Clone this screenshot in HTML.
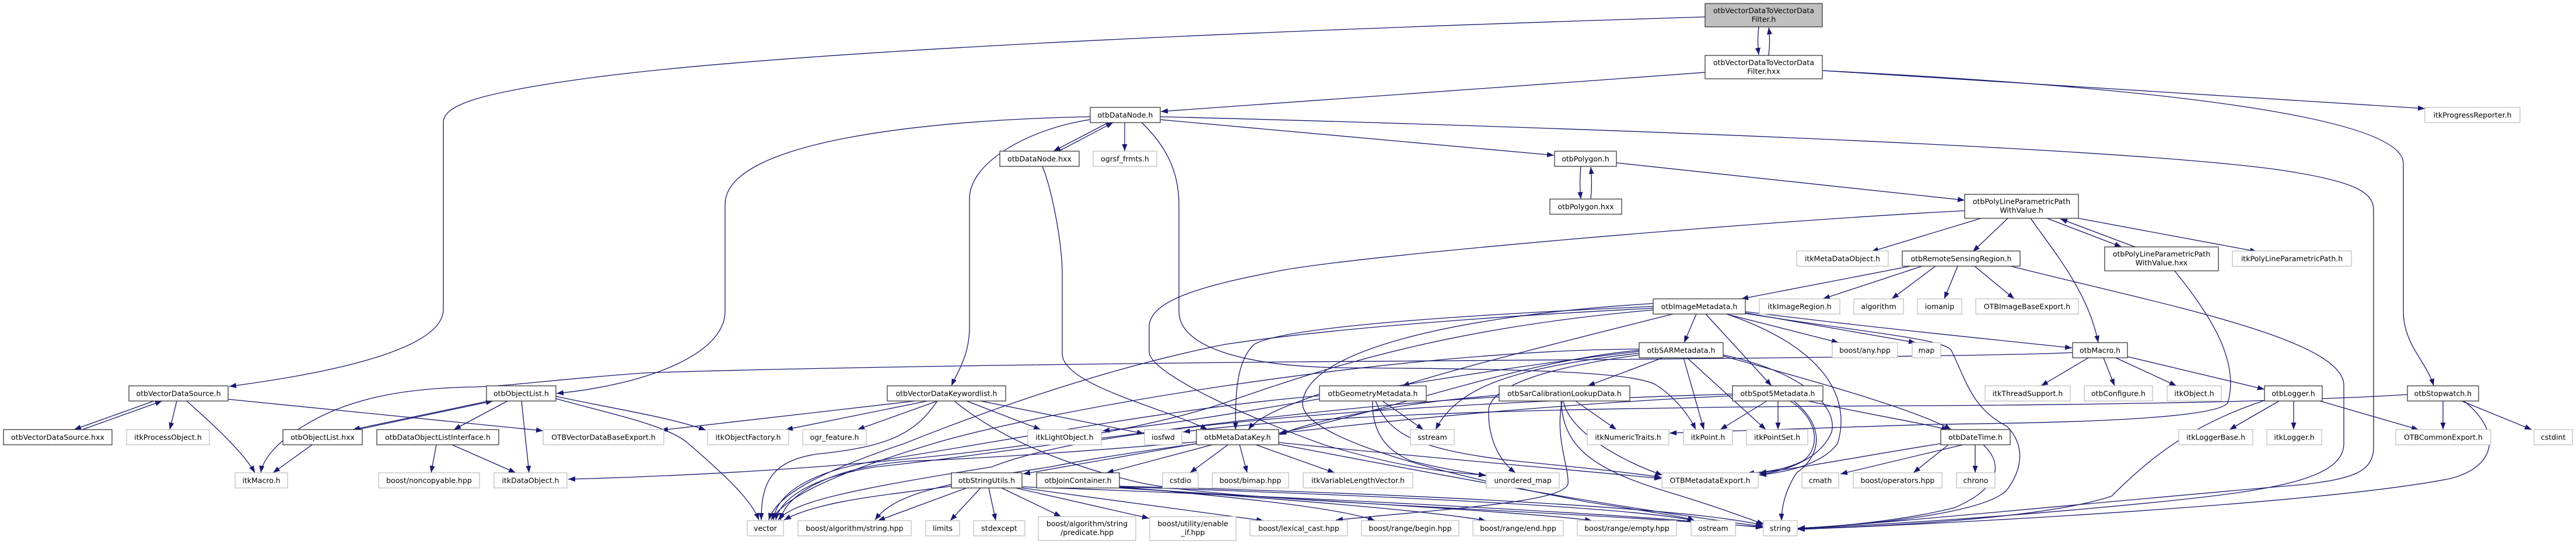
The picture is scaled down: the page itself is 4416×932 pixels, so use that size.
<!DOCTYPE html>
<html>
<head>
<meta charset="utf-8">
<style>
html,body{margin:0;padding:0;background:#fff;}
svg{display:block;}
text{font-family:"DejaVu Sans","Liberation Sans",sans-serif;font-size:12.5px;fill:#000;text-anchor:middle;}
.e{fill:none;stroke:#191970;stroke-width:1.3;marker-end:url(#ah);}
.b{fill:#fff;stroke:#3a3a3a;stroke-width:1.3;}
.g{fill:#fff;stroke:#bfbfbf;stroke-width:1.3;}
.r{fill:#bfbfbf;stroke:#3a3a3a;stroke-width:1.3;}
</style>
</head>
<body>
<svg width="4416" height="932" viewBox="0 0 4416 932" xmlns="http://www.w3.org/2000/svg">
<defs>
<marker id="ah" markerUnits="userSpaceOnUse" markerWidth="13" markerHeight="10" refX="12" refY="4.5" orient="auto">
<path d="M0,0 L12,4.5 L0,9 z" fill="#191970"/>
</marker>
</defs>

<!-- EDGES -->
<path class="e" d="M3015,46 C3013,62 3013,78 3015,94"/>
<path class="e" d="M3032,95 C3034,79 3034,62 3032,47"/>
<path class="e" d="M2923,29 C2400,45 1400,80 1000,135 C820,160 760,180 760,210 L760,530 C760,600 560,640 393,662"/>
<path class="e" d="M2923,124 C2600,148 2250,172 1990,191"/>
<path class="e" d="M3125,121 L4157,186"/>
<path class="e" d="M3125,121 C3700,150 4120,200 4120,280 L4120,533 C4120,590 4160,620 4172,661"/>
<path class="e" d="M1900,210 L1806,259"/>
<path class="e" d="M1815,259 L1908,210"/>
<path class="e" d="M1928,210 L1928,259"/>
<path class="e" d="M1989,205 L2664,266"/>
<path class="e" d="M1869,200 C1600,205 1243,240 1243,350 L1243,533 C1243,610 1100,660 954,674"/>
<path class="e" d="M1875,204 C1760,220 1662,280 1662,340 L1662,560 C1662,610 1640,640 1631,661"/>
<path class="e" d="M1787,285 C1805,330 1821,420 1821,470 L1821,606 C1821,660 2000,700 2070,736"/>
<path class="e" d="M1957,210 C2010,260 2021,310 2021,350 L2021,533 C2021,600 2150,628 2300,630 C2600,632 2800,636 2840,660 C2870,680 2895,710 2907,736"/>
<path class="e" d="M1989,200 C2600,215 3600,250 3900,290 C4040,310 4069,330 4069,360 L4069,766 C4069,810 4030,820 3950,830 C3600,860 3200,900 3082,905"/>
<path class="e" d="M2710,285 C2708,305 2708,322 2710,341"/>
<path class="e" d="M2727,341 C2729,322 2729,305 2727,286"/>
<path class="e" d="M2771,279 L3368,343"/>
<path class="e" d="M3509,374 L3637,423"/>
<path class="e" d="M3660,423 L3532,375"/>
<path class="e" d="M3563,374 L3869,431"/>
<path class="e" d="M3442,374 L3382,431"/>
<path class="e" d="M3396,374 L3208,431"/>
<path class="e" d="M3481,374 C3520,430 3580,500 3597,587"/>
<path class="e" d="M3368,361 C3000,380 2300,440 2183,466 C2060,490 1970,515 1970,560 L1970,603 C1970,640 2150,720 2273,763 C2400,800 2480,810 2547,814"/>
<path class="e" d="M3727,463 C3790,540 3840,620 3819,690 C3800,720 3500,725 3312,727 L2862,742"/>
<path class="e" d="M3275,456 L2985,512"/>
<path class="e" d="M3295,456 L3125,512"/>
<path class="e" d="M3318,456 L3243,512"/>
<path class="e" d="M3356,456 L3333,512"/>
<path class="e" d="M3385,456 L3453,512"/>
<path class="e" d="M3447,456 C3700,520 4018,580 4018,660 L4018,760 C4018,820 3900,840 3700,860 C3400,890 3150,903 3082,905"/>
<path class="e" d="M2908,538 L2887,587"/>
<path class="e" d="M2924,538 L3037,661"/>
<path class="e" d="M2868,538 C2700,580 2500,630 2404,661"/>
<path class="e" d="M2959,538 L3152,587"/>
<path class="e" d="M2992,536 L3284,587"/>
<path class="e" d="M2992,534 C3200,560 3400,580 3552,596"/>
<path class="e" d="M2960,538 C3140,600 3172,690 3150,760 C3120,800 3050,810 3016,814"/>
<path class="e" d="M2834,525 C2500,540 2200,560 2150,590 C2118,620 2118,680 2118,736"/>
<path class="e" d="M2834,528 C2600,540 2300,560 2100,590 C1900,630 1700,700 1550,760 C1400,810 1330,850 1318,891"/>
<path class="e" d="M2834,531 C2500,560 2300,620 2100,690 C1800,790 1200,815 974,821"/>
<path class="e" d="M2992,537 C3200,570 3330,580 3345,600 C3370,650 3380,700 3440,730 C3470,760 3470,800 3440,840 C3400,880 3200,900 3082,905"/>
<path class="e" d="M2834,520 C2500,540 2240,600 2233,690 C2230,740 2400,800 2722,860 C2850,880 2890,886 2905,892"/>
<path class="e" d="M2850,613 L2722,661"/>
<path class="e" d="M2886,613 L2921,736"/>
<path class="e" d="M2892,613 L3027,736"/>
<path class="e" d="M2810,605 C2600,630 2500,660 2461,736"/>
<path class="e" d="M2810,608 C2650,630 2560,660 2552,700 C2550,750 2570,790 2598,810"/>
<path class="e" d="M2954,608 C3100,640 3150,700 3140,740 C3120,790 3050,810 3016,812"/>
<path class="e" d="M2954,610 C3100,650 3280,700 3345,736"/>
<path class="e" d="M2810,600 C2600,620 2400,700 2193,742"/>
<path class="e" d="M2810,598 C2400,600 1800,700 1600,760 C1400,820 1340,860 1322,891"/>
<path class="e" d="M2810,602 C2400,650 2100,720 1890,738"/>
<path class="e" d="M2370,687 L2440,736"/>
<path class="e" d="M2353,687 C2352,720 2360,766 2420,790 C2480,805 2520,810 2547,815"/>
<path class="e" d="M2358,687 C2380,740 2420,770 2600,790 C2700,800 2800,810 2848,818"/>
<path class="e" d="M2262,675 C2220,690 2160,710 2140,736"/>
<path class="e" d="M2262,678 C2000,700 1700,760 1500,790 C1380,810 1330,850 1326,891"/>
<path class="e" d="M2701,687 L2771,736"/>
<path class="e" d="M2680,687 C2690,740 2780,790 2850,814"/>
<path class="e" d="M2676,687 C2680,760 2720,800 2850,840 C2950,870 3000,890 3024,898"/>
<path class="e" d="M2678,687 C2665,750 2690,800 2688,829 C2680,860 2500,870 2290,891"/>
<path class="e" d="M2570,680 C2200,700 1700,780 1500,800 C1380,820 1335,860 1330,891"/>
<path class="e" d="M2570,677 C2400,690 2250,720 2193,745"/>
<path class="e" d="M3029,687 L2949,736"/>
<path class="e" d="M3048,687 L3048,736"/>
<path class="e" d="M3069,687 C3120,720 3120,770 3090,790 C3060,805 3030,808 2995,811"/>
<path class="e" d="M3075,687 C3140,740 3110,790 3080,810 C3060,840 3054,870 3054,892"/>
<path class="e" d="M3100,687 C3200,710 3300,725 3340,737"/>
<path class="e" d="M2970,675 C2500,690 1900,720 1700,800 C1450,840 1360,860 1334,891"/>
<path class="e" d="M2970,678 C2500,700 2000,760 1800,800 C1600,830 1530,850 1500,891"/>
<path class="e" d="M4127,676 C3900,690 3500,694 3300,695 C2800,697 2300,705 2028,740"/>
<path class="e" d="M1569,687 L1133,737"/>
<path class="e" d="M1590,687 L1347,736"/>
<path class="e" d="M1607,687 L1470,736"/>
<path class="e" d="M1607,687 C1570,740 1530,765 1400,778 C1320,790 1305,830 1305,891"/>
<path class="e" d="M1657,687 L1784,736"/>
<path class="e" d="M1681,687 L1961,743"/>
<path class="e" d="M1636,687 C1700,740 1800,790 1950,826 C2100,860 2600,870 3022,903"/>
<path class="e" d="M838,687 L605,736"/>
<path class="e" d="M613,736 L845,687"/>
<path class="e" d="M870,687 L778,736"/>
<path class="e" d="M894,687 L907,810"/>
<path class="e" d="M953,679 C1050,700 1150,715 1210,737"/>
<path class="e" d="M953,683 C1050,710 1146,729 1180,760 C1250,820 1290,860 1301,891"/>
<path class="e" d="M535,762 L468,810"/>
<path class="e" d="M748,762 L739,810"/>
<path class="e" d="M775,762 L884,810"/>
<path class="e" d="M264,687 L127,736"/>
<path class="e" d="M141,736 L278,687"/>
<path class="e" d="M303,687 L291,736"/>
<path class="e" d="M320,687 C380,740 420,780 437,810"/>
<path class="e" d="M391,684 L931,738"/>
<path class="e" d="M3553,604 C3400,612 2500,618 2208,620 C1700,625 1300,632 1104,639 C950,650 870,662 810,663 C700,665 600,680 520,730 C470,760 450,790 447,810"/>
<path class="e" d="M2105,762 L2040,810"/>
<path class="e" d="M2125,762 L2138,810"/>
<path class="e" d="M2078,762 L1897,810"/>
<path class="e" d="M2051,760 L1754,812"/>
<path class="e" d="M2153,762 L2288,810"/>
<path class="e" d="M2051,757 C1900,770 1700,785 1560,790 C1420,800 1345,850 1338,891"/>
<path class="e" d="M2192,758 C2400,780 2700,805 2848,820"/>
<path class="e" d="M2192,761 C2400,800 2700,860 3022,902"/>
<path class="e" d="M1631,833 C1500,850 1400,860 1344,891"/>
<path class="e" d="M1657,836 L1505,892"/>
<path class="e" d="M1681,836 L1629,892"/>
<path class="e" d="M1695,836 L1707,892"/>
<path class="e" d="M1717,836 L1819,885"/>
<path class="e" d="M1741,836 L1970,888"/>
<path class="e" d="M1752,836 L2166,892"/>
<path class="e" d="M1752,834 C2200,850 2800,880 3022,904"/>
<path class="e" d="M1919,834 C2100,850 2300,870 2357,892"/>
<path class="e" d="M1919,835 C2200,855 2450,875 2547,892"/>
<path class="e" d="M1919,836 C2300,860 2650,880 2729,892"/>
<path class="e" d="M1919,834 C2400,850 2800,870 2905,892"/>
<path class="e" d="M1919,833 C2400,845 2900,870 3022,900"/>
<path class="e" d="M3386,762 L3386,810"/>
<path class="e" d="M3365,762 L3155,812"/>
<path class="e" d="M3340,762 L3280,810"/>
<path class="e" d="M3400,762 C3440,800 3420,840 3350,870 C3250,895 3120,904 3082,905"/>
<path class="e" d="M3327,760 C3200,780 3100,800 3016,810"/>
<path class="e" d="M3580,613 L3499,661"/>
<path class="e" d="M3606,613 L3625,661"/>
<path class="e" d="M3627,613 L3731,661"/>
<path class="e" d="M3647,611 L3882,667"/>
<path class="e" d="M3907,687 L3822,736"/>
<path class="e" d="M3932,687 L3932,736"/>
<path class="e" d="M3977,687 L4146,736"/>
<path class="e" d="M3882,686 C3750,730 3680,790 3620,850 C3500,890 3200,903 3082,906"/>
<path class="e" d="M4188,687 L4188,736"/>
<path class="e" d="M4220,687 L4340,736"/>
<path class="e" d="M4224,687 C4290,740 4280,800 4200,820 C4000,860 3400,895 3082,907"/>

<!-- NODES -->
<rect class="r" x="2923" y="6" width="201" height="40"/>
<text x="3023.5" y="22.5">otbVectorDataToVectorData</text><text x="3023.5" y="37.5">Filter.h</text>
<rect class="b" x="2923" y="95" width="201" height="40"/>
<text x="3023.5" y="111.5">otbVectorDataToVectorData</text><text x="3023.5" y="126.5">Filter.hxx</text>

<rect class="b" x="1869" y="184" width="120" height="26"/><text x="1929" y="201.5">otbDataNode.h</text>
<rect class="g" x="4157" y="184" width="163" height="26"/><text x="4238.5" y="201.5">itkProgressReporter.h</text>

<rect class="b" x="1714" y="259" width="136" height="26"/><text x="1782" y="276.5">otbDataNode.hxx</text>
<rect class="g" x="1874" y="259" width="109" height="26"/><text x="1928.5" y="276.5">ogrsf_frmts.h</text>
<rect class="b" x="2665" y="259" width="106" height="26"/><text x="2718" y="276.5">otbPolygon.h</text>

<rect class="b" x="2657" y="341" width="123" height="26"/><text x="2718.5" y="358.5">otbPolygon.hxx</text>
<rect class="b" x="3368" y="333" width="195" height="41"/>
<text x="3465.5" y="349.5">otbPolyLineParametricPath</text><text x="3465.5" y="364.5">WithValue.h</text>

<rect class="g" x="3080" y="430" width="157" height="26"/><text x="3158.5" y="447.5">itkMetaDataObject.h</text>
<rect class="b" x="3261" y="430" width="202" height="26"/><text x="3362" y="447.5">otbRemoteSensingRegion.h</text>
<rect class="b" x="3608" y="423" width="195" height="41"/>
<text x="3705.5" y="439.5">otbPolyLineParametricPath</text><text x="3705.5" y="454.5">WithValue.hxx</text>
<rect class="g" x="3827" y="430" width="204" height="26"/><text x="3929" y="447.5">itkPolyLineParametricPath.h</text>

<rect class="b" x="2834" y="512" width="158" height="26"/><text x="2913" y="529.5">otbImageMetadata.h</text>
<rect class="g" x="3016" y="512" width="138" height="26"/><text x="3085" y="529.5">itkImageRegion.h</text>
<rect class="g" x="3178" y="512" width="85" height="26"/><text x="3220.5" y="529.5">algorithm</text>
<rect class="g" x="3287" y="512" width="76" height="26"/><text x="3325" y="529.5">iomanip</text>
<rect class="g" x="3387" y="512" width="176" height="26"/><text x="3475" y="529.5">OTBImageBaseExport.h</text>

<rect class="b" x="2810" y="587" width="144" height="26"/><text x="2882" y="604.5">otbSARMetadata.h</text>
<rect class="g" x="3141" y="587" width="112" height="26"/><text x="3197" y="604.5">boost/any.hpp</text>
<rect class="g" x="3278" y="587" width="49" height="26"/><text x="3302.5" y="604.5">map</text>
<rect class="b" x="3553" y="587" width="94" height="26"/><text x="3600" y="604.5">otbMacro.h</text>

<rect class="b" x="221" y="661" width="170" height="26"/><text x="306" y="678.5">otbVectorDataSource.h</text>
<rect class="b" x="834" y="661" width="119" height="26"/><text x="893.5" y="678.5">otbObjectList.h</text>
<rect class="b" x="1521" y="661" width="203" height="26"/><text x="1622.5" y="678.5">otbVectorDataKeywordlist.h</text>
<rect class="b" x="2262" y="661" width="183" height="26"/><text x="2353.5" y="678.5">otbGeometryMetadata.h</text>
<rect class="b" x="2570" y="661" width="224" height="26"/><text x="2682" y="678.5">otbSarCalibrationLookupData.h</text>
<rect class="b" x="2970" y="661" width="155" height="26"/><text x="3047.5" y="678.5">otbSpot5Metadata.h</text>
<rect class="g" x="3403" y="661" width="146" height="26"/><text x="3476" y="678.5">itkThreadSupport.h</text>
<rect class="g" x="3573" y="661" width="117" height="26"/><text x="3631.5" y="678.5">otbConfigure.h</text>
<rect class="g" x="3715" y="661" width="93" height="26"/><text x="3761.5" y="678.5">itkObject.h</text>
<rect class="b" x="3882" y="661" width="99" height="26"/><text x="3931.5" y="678.5">otbLogger.h</text>
<rect class="b" x="4127" y="661" width="122" height="26"/><text x="4188" y="678.5">otbStopwatch.h</text>

<rect class="b" x="6" y="736" width="186" height="26"/><text x="99" y="753.5">otbVectorDataSource.hxx</text>
<rect class="g" x="217" y="736" width="142" height="26"/><text x="288" y="753.5">itkProcessObject.h</text>
<rect class="b" x="485" y="736" width="136" height="26"/><text x="553" y="753.5">otbObjectList.hxx</text>
<rect class="b" x="646" y="736" width="209" height="26"/><text x="750.5" y="753.5">otbDataObjectListInterface.h</text>
<rect class="g" x="931" y="736" width="207" height="26"/><text x="1034.5" y="753.5">OTBVectorDataBaseExport.h</text>
<rect class="g" x="1213" y="736" width="139" height="26"/><text x="1282.5" y="753.5">itkObjectFactory.h</text>
<rect class="g" x="1376" y="736" width="109" height="26"/><text x="1430.5" y="753.5">ogr_feature.h</text>
<rect class="g" x="1762" y="736" width="126" height="26"/><text x="1825" y="753.5">itkLightObject.h</text>
<rect class="g" x="1962" y="736" width="64" height="26"/><text x="1994" y="753.5">iosfwd</text>
<rect class="b" x="2051" y="736" width="141" height="26"/><text x="2121.5" y="753.5">otbMetaDataKey.h</text>
<rect class="g" x="2418" y="736" width="75" height="26"/><text x="2455.5" y="753.5">sstream</text>
<rect class="g" x="2721" y="736" width="140" height="26"/><text x="2791" y="753.5">itkNumericTraits.h</text>
<rect class="g" x="2886" y="736" width="84" height="26"/><text x="2928" y="753.5">itkPoint.h</text>
<rect class="g" x="2994" y="736" width="105" height="26"/><text x="3046.5" y="753.5">itkPointSet.h</text>
<rect class="b" x="3327" y="736" width="119" height="26"/><text x="3386.5" y="753.5">otbDateTime.h</text>
<rect class="g" x="3735" y="736" width="127" height="26"/><text x="3798.5" y="753.5">itkLoggerBase.h</text>
<rect class="g" x="3886" y="736" width="94" height="26"/><text x="3933" y="753.5">itkLogger.h</text>
<rect class="g" x="4107" y="736" width="163" height="26"/><text x="4188.5" y="753.5">OTBCommonExport.h</text>
<rect class="g" x="4344" y="736" width="66" height="26"/><text x="4377" y="753.5">cstdint</text>

<rect class="g" x="403" y="810" width="90" height="26"/><text x="448" y="827.5">itkMacro.h</text>
<rect class="g" x="649" y="810" width="173" height="26"/><text x="735.5" y="827.5">boost/noncopyable.hpp</text>
<rect class="g" x="847" y="810" width="125" height="26"/><text x="909.5" y="827.5">itkDataObject.h</text>
<rect class="b" x="1631" y="810" width="121" height="26"/><text x="1691.5" y="827.5">otbStringUtils.h</text>
<rect class="b" x="1777" y="810" width="142" height="26"/><text x="1848" y="827.5">otbJoinContainer.h</text>
<rect class="g" x="1993" y="810" width="61" height="26"/><text x="2023.5" y="827.5">cstdio</text>
<rect class="g" x="2078" y="810" width="131" height="26"/><text x="2143.5" y="827.5">boost/bimap.hpp</text>
<rect class="g" x="2234" y="810" width="188" height="26"/><text x="2328" y="827.5">itkVariableLengthVector.h</text>
<rect class="g" x="2548" y="810" width="125" height="26"/><text x="2610.5" y="827.5">unordered_map</text>
<rect class="g" x="2849" y="810" width="165" height="26"/><text x="2931.5" y="827.5">OTBMetadataExport.h</text>
<rect class="g" x="3089" y="810" width="63" height="26"/><text x="3120.5" y="827.5">cmath</text>
<rect class="g" x="3177" y="810" width="152" height="26"/><text x="3253" y="827.5">boost/operators.hpp</text>
<rect class="g" x="3354" y="810" width="66" height="26"/><text x="3387" y="827.5">chrono</text>

<rect class="g" x="1281" y="892" width="62" height="26"/><text x="1312" y="909.5">vector</text>
<rect class="g" x="1368" y="892" width="194" height="26"/><text x="1465" y="909.5">boost/algorithm/string.hpp</text>
<rect class="g" x="1587" y="892" width="58" height="26"/><text x="1616" y="909.5">limits</text>
<rect class="g" x="1669" y="892" width="88" height="26"/><text x="1713" y="909.5">stdexcept</text>
<rect class="g" x="1780" y="885" width="167" height="41"/>
<text x="1863.5" y="901.5">boost/algorithm/string</text><text x="1863.5" y="916.5">/predicate.hpp</text>
<rect class="g" x="1971" y="885" width="148" height="41"/>
<text x="2045" y="901.5">boost/utility/enable</text><text x="2045" y="916.5">_if.hpp</text>
<rect class="g" x="2143" y="892" width="167" height="26"/><text x="2226.5" y="909.5">boost/lexical_cast.hpp</text>
<rect class="g" x="2334" y="892" width="167" height="26"/><text x="2417.5" y="909.5">boost/range/begin.hpp</text>
<rect class="g" x="2525" y="892" width="155" height="26"/><text x="2602.5" y="909.5">boost/range/end.hpp</text>
<rect class="g" x="2704" y="892" width="170" height="26"/><text x="2789" y="909.5">boost/range/empty.hpp</text>
<rect class="g" x="2899" y="892" width="76" height="26"/><text x="2937" y="909.5">ostream</text>
<rect class="g" x="3023" y="892" width="58" height="26"/><text x="3052" y="909.5">string</text>
</svg>
</body>
</html>
